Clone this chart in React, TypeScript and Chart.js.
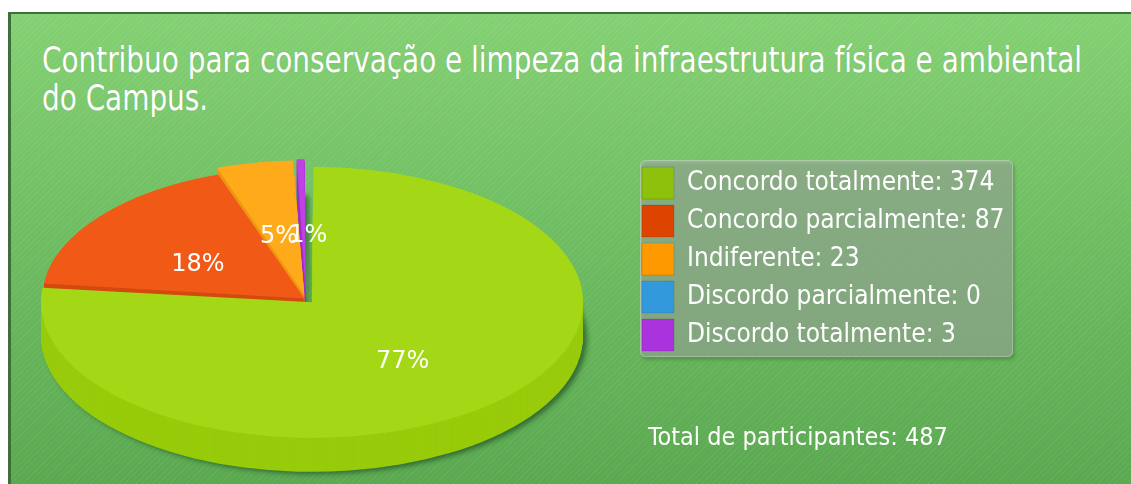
import { useEffect, useRef } from 'react';
import { Chart, ArcElement, registerables } from 'chart.js';

Chart.register(...registerables);

const categories = [
  'Concordo totalmente',
  'Concordo parcialmente',
  'Indiferente',
  'Discordo parcialmente',
  'Discordo totalmente',
];
const counts = [374, 87, 23, 0, 3];
const sliceColors = ['#A4D816', '#F05A16', '#FFAA1A', '#3399DD', '#C040E8'];
const sideColors = ['#98CB0A', '#D44A0E', '#EE9612', '#2A85C5', '#A030C8'];
const legendColors = ['#8DC10B', '#DD4400', '#FF9900', '#3399DD', '#AA33DD'];
const sliceOffsets = [36, 8, 36, 0, 36];
const titleLines = [
  'Contribuo para conservação e limpeza da infraestrutura física e ambiental',
  'do Campus.',
];
const totalLabel = 'Total de participantes';

const NARROW = "'Liberation Sans Narrow', 'DejaVu Sans Condensed', 'Arial Narrow', 'Liberation Sans', sans-serif";
const SQUASH = 0.5;
const DEPTH = 34;
const TITLE_WIDTH = 1040;
const LABEL_NUDGE_Y = 9;

const total = counts.reduce((a, b) => a + b, 0);

function cloneArc(a: any, color: string) {
  const p = a.getProps(['x', 'y', 'startAngle', 'endAngle', 'innerRadius', 'outerRadius', 'circumference'], true);
  return new (ArcElement as any)({
    ...p,
    options: { ...a.options, backgroundColor: color, borderWidth: 0 },
  });
}

const pie3d = {
  id: 'pie3d',
  afterLayout(chart: any) {
    const lg = chart.legend;
    if (!lg) return;
    const w = lg.width;
    lg.left = 625;
    lg.top = 147;
    lg.right = 625 + w;
    lg.bottom = 147 + 240;
  },
  beforeDraw(chart: any) {
    const ctx = chart.ctx;
    const x = 629, y = 146, w = 373, h = 197, r = 5;
    ctx.save();
    ctx.shadowColor = 'rgba(20,70,20,0.45)';
    ctx.shadowBlur = 3;
    ctx.shadowOffsetX = 2;
    ctx.shadowOffsetY = 3;
    ctx.beginPath();
    ctx.roundRect(x, y, w, h, r);
    ctx.fillStyle = 'rgba(172,176,172,0.52)';
    ctx.fill();
    ctx.restore();
    ctx.save();
    ctx.beginPath();
    ctx.roundRect(x + 0.5, y + 0.5, w - 1, h - 1, r);
    ctx.strokeStyle = 'rgba(255,255,255,0.25)';
    ctx.lineWidth = 1;
    ctx.stroke();
    ctx.restore();
  },
  beforeDatasetsDraw(chart: any) {
    const ctx = chart.ctx;
    const arcs = chart.getDatasetMeta(0).data;
    if (!arcs.length) return;
    const cy = arcs[0].y;
    const order = [1, 2, 3, 4, 0];
    for (let d = DEPTH; d >= 1; d--) {
      ctx.save();
      if (d === DEPTH) {
        ctx.shadowColor = 'rgba(10,50,20,0.55)';
        ctx.shadowBlur = 5;
        ctx.shadowOffsetX = 4;
        ctx.shadowOffsetY = 2;
      }
      ctx.translate(0, cy + d);
      ctx.scale(1, SQUASH);
      ctx.translate(0, -cy);
      for (const i of order) {
        if (!counts[i]) continue;
        cloneArc(arcs[i], sideColors[i]).draw(ctx);
      }
      ctx.restore();
    }
    ctx.save();
    ctx.translate(0, cy);
    ctx.scale(1, SQUASH);
    ctx.translate(0, -cy);
  },
  afterDatasetsDraw(chart: any) {
    const ctx = chart.ctx;
    ctx.restore();
    const arcs = chart.getDatasetMeta(0).data;
    ctx.save();
    ctx.fillStyle = '#ffffff';
    ctx.font = "24px 'DejaVu Sans', sans-serif";
    ctx.textAlign = 'center';
    ctx.textBaseline = 'middle';
    arcs.forEach((a: any, i: number) => {
      if (!counts[i]) return;
      const p = a.getProps(['x', 'y', 'startAngle', 'endAngle', 'outerRadius'], true);
      const mid = (p.startAngle + p.endAngle) / 2;
      const rr = p.outerRadius * 0.52 + (a.options.offset || 0) / 4;
      const tx = p.x + Math.cos(mid) * rr + (i === 4 ? 5 : 0);
      const ty = p.y + Math.sin(mid) * rr * SQUASH + LABEL_NUDGE_Y;
      const pct = Math.round((counts[i] / total) * 100);
      ctx.fillText(pct + '%', tx, ty);
    });
    ctx.restore();
  },
};

export default function App() {
  const canvasRef = useRef<HTMLCanvasElement>(null);
  const titleRef = useRef<HTMLDivElement>(null);
  const line1Ref = useRef<HTMLSpanElement>(null);

  useEffect(() => {
    if (titleRef.current && line1Ref.current) {
      const w = line1Ref.current.getBoundingClientRect().width;
      if (w > 0) {
        titleRef.current.style.transform = `scaleX(${TITLE_WIDTH / w})`;
      }
    }
    const chart = new Chart(canvasRef.current!, {
      type: 'pie',
      data: {
        labels: categories,
        datasets: [
          {
            data: counts,
            backgroundColor: sliceColors,
            borderWidth: 0,
            offset: sliceOffsets,
            clip: false,
          } as any,
        ],
      },
      options: {
        animation: false,
        responsive: true,
        maintainAspectRatio: false,
        radius: 262,
        layout: { padding: { left: 0, right: 530, top: 100, bottom: 0 } },
        plugins: {
          title: { display: false },
          tooltip: { enabled: false },
          legend: {
            display: true,
            position: 'chartArea',
            align: 'start',
            onClick: () => {},
            labels: {
              boxWidth: 32,
              boxHeight: 32,
              padding: 6,
              color: '#ffffff',
              font: { family: NARROW, size: 26 },
              generateLabels: () =>
                categories.map((c, i) => ({
                  text: `${c}: ${counts[i]}`,
                  fillStyle: legendColors[i],
                  strokeStyle: 'rgba(0,0,0,0.12)',
                  lineWidth: 1,
                  fontColor: '#ffffff',
                  hidden: false,
                  index: i,
                })),
            },
          },
        },
      } as any,
      plugins: [pie3d],
    });
    return () => chart.destroy();
  }, []);

  return (
    <div
      style={{
        position: 'fixed',
        left: 8,
        top: 12,
        width: 1123,
        height: 472,
        boxSizing: 'border-box',
        borderTop: '2px solid #3f6f39',
        borderLeft: '3px solid #3f6f39',
        background:
          'repeating-linear-gradient(135deg, rgba(255,255,255,0.06) 0px, rgba(255,255,255,0.06) 1px, rgba(255,255,255,0) 1px, rgba(255,255,255,0) 4px), linear-gradient(to bottom, #84d174 0%, #72c064 40%, #5aa850 100%)',
        overflow: 'hidden',
      }}
    >
      <div
        ref={titleRef}
        style={{
          position: 'absolute',
          left: 31,
          top: 27,
          color: '#ffffff',
          fontFamily: NARROW,
          fontSize: 35,
          lineHeight: '38px',
          whiteSpace: 'nowrap',
          transformOrigin: 'left top',
          textShadow: '0 0 1px rgba(0,0,0,0.15)',
        }}
      >
        <div>
          <span ref={line1Ref}>{titleLines[0]}</span>
        </div>
        <div>{titleLines[1]}</div>
      </div>
      <div style={{ position: 'absolute', left: 0, top: 0, width: 1120, height: 470 }}>
        <canvas ref={canvasRef} />
      </div>
      <div
        style={{
          position: 'absolute',
          left: 637,
          top: 408,
          color: '#ffffff',
          fontFamily: NARROW,
          fontSize: 25,
          whiteSpace: 'nowrap',
        }}
      >
        {`${totalLabel}: ${total}`}
      </div>
    </div>
  );
}
